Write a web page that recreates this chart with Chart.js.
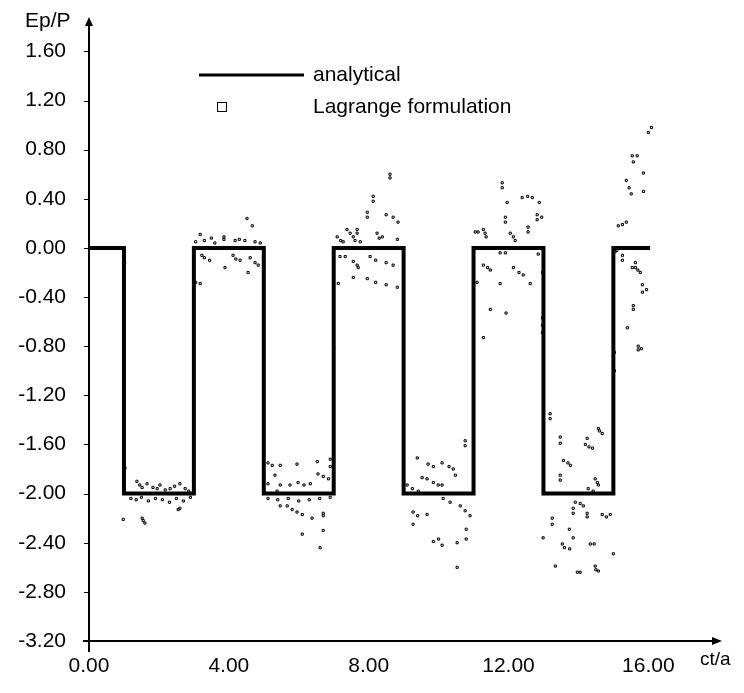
<!DOCTYPE html>
<html>
<head>
<meta charset="utf-8">
<script src="https://cdn.jsdelivr.net/npm/chart.js@4/dist/chart.umd.min.js"></script>
<style>
  body { margin: 0; background: #fff; }
  #chart { display: block; }
</style>
</head>
<body>
<canvas id="chart" width="744" height="693"></canvas>
<script>
// analytical square wave
const analyticalX = [0, 1, 1, 3, 3, 5, 5, 7, 7, 9, 9, 11, 11, 13, 13, 15, 15, 16.05];
const analyticalY = [0, 0, -2, -2, 0, 0, -2, -2, 0, 0, -2, -2, 0, 0, -2, -2, 0, 0];

// Lagrange formulation points
const lagrangeX = [
  0.1, 0.3, 0.5, 0.7, 0.9, 1.02, 1.03, 0.98,
  1.37, 1.45, 1.52, 1.66, 1.83, 1.95, 2.03, 2.18, 2.32, 2.45, 2.6, 2.75, 2.85,
  1.2, 1.35, 1.5, 1.7, 1.9, 2.1, 2.3, 2.5, 2.7, 2.9, 2.55, 2.6, 1.52, 1.6, 1.55,
  3.05, 3.18, 3.3, 3.5, 3.86, 3.86, 4.18, 4.3, 4.46, 4.52, 4.67, 4.75, 4.9, 3.6,
  3.23, 3.3, 3.45, 4.12, 4.2, 4.32, 4.61, 4.75, 4.84, 3.89, 4.55, 3.18, 3.05,
  5.0,
  5.12, 5.24, 5.47, 5.95, 6.53, 6.9, 6.9, 5.32, 6.55, 6.7, 6.85, 5.12, 5.47, 5.75, 5.98, 6.15, 6.33, 5.38,
  5.12, 5.4, 5.7, 6.0, 6.3, 6.6, 6.9, 5.47, 5.67, 5.81, 5.95, 6.1, 6.38, 6.7, 6.7, 6.1, 6.7, 6.61,
  7.0,
  8.61, 8.61, 8.13, 8.13, 7.96, 7.96, 8.5, 8.7, 8.84, 7.38, 7.67, 7.67, 7.1, 7.2, 7.27, 7.47, 7.56, 7.61, 7.76, 8.24, 8.39, 8.3, 8.82,
  7.18, 7.33, 7.56, 7.67, 7.7, 8.04, 8.2, 8.5, 8.7, 7.56, 7.96, 8.2, 8.5, 8.82, 7.13,
  10.76, 10.76, 9.39, 9.7, 9.85, 10.1, 10.3, 10.42, 10.48, 9.53, 9.67, 9.85, 9.99, 10.1, 9.1, 9.25, 9.42,
  10.13, 10.33, 9.27, 9.4, 9.67, 9.27, 10.62, 10.76, 10.9, 10.79, 10.79, 9.85, 10.0, 10.1, 10.53, 10.53,
  11.82, 11.82, 12.39, 12.55, 12.68, 12.88, 11.96, 11.91, 11.91, 12.82, 12.95, 12.82, 12.56, 12.56, 11.05, 11.13, 11.28, 11.33, 11.36, 12.05, 12.14, 12.19,
  11.76, 11.91, 11.28, 11.4, 11.48, 12.14, 12.3, 12.42, 11.76, 12.62, 11.1, 11.48, 11.93, 11.28, 12.85,
  12.97, 12.97, 12.97, 12.97,
  13.19, 13.19, 13.0, 13.48, 13.48, 14.25, 14.2, 14.3, 14.4, 14.57, 14.68, 14.6, 13.57, 13.7, 13.77, 13.48, 13.48, 14.48, 14.54, 14.57, 14.28, 14.42,
  13.91, 14.05, 14.14, 13.85, 13.85, 14.25, 14.25, 13.25, 13.25, 14.68, 14.8, 14.91, 13.74, 12.99, 13.85, 13.54, 13.6, 13.75, 14.34, 14.45, 15.0, 13.34, 13.97, 14.05, 14.48, 14.57, 14.5,
  15.03, 15.03, 15.0,
  16.09, 16.0, 15.54, 15.68, 15.57, 15.86, 15.37, 15.45, 15.51, 15.86, 15.14, 15.26, 15.37,
  15.26, 15.26, 15.63, 15.63, 15.54, 15.7, 15.77, 15.83, 15.95, 15.83, 15.57, 15.57, 15.4, 15.71, 15.8, 15.71, 15.05, 15.1
];
const lagrangeY = [
  0, 0, 0, 0, 0, -0.12, -1.79, -2.21,
  -1.90, -1.93, -1.95, -1.92, -1.95, -1.96, -1.93, -1.97, -1.96, -1.94, -1.92, -1.96, -1.98,
  -2.04, -2.05, -2.03, -2.06, -2.04, -2.05, -2.07, -2.04, -2.06, -2.03, -2.13, -2.12, -2.20, -2.24, -2.22,
  0.05, 0.11, 0.06, 0.08, 0.07, 0.09, 0.06, 0.07, 0.06, 0.24, 0.18, 0.05, 0.04, 0.04,
  -0.06, -0.08, -0.10, -0.06, -0.09, -0.10, -0.08, -0.12, -0.14, -0.16, -0.20, -0.29, -0.28,
  -0.82,
  -1.75, -1.77, -1.77, -1.76, -1.74, -1.72, -1.78, -1.85, -1.84, -1.86, -1.88, -1.92, -1.93, -1.93, -1.91, -1.93, -1.92, -1.98,
  -2.04, -2.05, -2.04, -2.06, -2.05, -2.04, -2.03, -2.10, -2.10, -2.13, -2.15, -2.17, -2.20, -2.16, -2.18, -2.33, -2.30, -2.44,
  -0.82,
  0.60, 0.57, 0.42, 0.38, 0.29, 0.25, 0.27, 0.25, 0.21, 0.15, 0.15, 0.12, 0.09, 0.06, 0.05, 0.12, 0.09, 0.06, 0.05, 0.12, 0.09, 0.08, 0.07,
  -0.07, -0.07, -0.11, -0.14, -0.16, -0.07, -0.10, -0.12, -0.14, -0.24, -0.25, -0.28, -0.30, -0.32, -0.29,
  -1.57, -1.61, -1.71, -1.76, -1.78, -1.75, -1.78, -1.80, -1.85, -1.87, -1.88, -1.91, -1.93, -1.93, -1.93, -1.96, -1.98,
  -2.04, -2.07, -2.15, -2.18, -2.17, -2.25, -2.10, -2.14, -2.18, -2.29, -2.37, -2.39, -2.37, -2.42, -2.40, -2.60,
  0.53, 0.49, 0.41, 0.42, 0.41, 0.37, 0.37, 0.25, 0.21, 0.27, 0.25, 0.23, 0.17, 0.13, 0.13, 0.13, 0.15, 0.12, 0.09, 0.12, 0.09, 0.06,
  -0.04, -0.04, -0.14, -0.16, -0.18, -0.16, -0.20, -0.22, -0.29, -0.29, -0.28, -0.50, -0.53, -0.73, -0.05,
  -0.20, -0.57, -0.63, -0.69,
  -1.35, -1.39, -1.50, -1.54, -1.59, -1.55, -1.60, -1.62, -1.63, -1.47, -1.51, -1.49, -1.73, -1.75, -1.77, -1.85, -1.89, -1.88, -1.91, -1.93, -1.96, -1.98,
  -2.07, -2.08, -2.10, -2.12, -2.16, -2.16, -2.19, -2.20, -2.25, -2.17, -2.19, -2.17, -2.29, -2.36, -2.36, -2.41, -2.44, -2.45, -2.41, -2.41, -2.49, -2.59, -2.64, -2.64, -2.59, -2.63, -2.62,
  -0.85, -1.00, -0.69,
  0.98, 0.94, 0.75, 0.75, 0.70, 0.61, 0.55, 0.49, 0.44, 0.46, 0.18, 0.19, 0.21,
  -0.06, -0.10, -0.12, -0.16, -0.16, -0.18, -0.20, -0.30, -0.34, -0.36, -0.47, -0.50, -0.65, -0.80, -0.82, -0.83, -0.03, -0.02
];

const xTicks = [0, 4, 8, 12, 16];
const yTicks = [-3.2, -2.8, -2.4, -2.0, -1.6, -1.2, -0.8, -0.4, 0, 0.4, 0.8, 1.2, 1.6];
const legendLabels = ["analytical", "Lagrange formulation"];
const xTitle = "ct/a";
const yTitle = "Ep/P";

const FONT = "'Liberation Sans', Arial, sans-serif";

const toPoints = (xs, ys) => xs.map((x, i) => ({ x: x, y: ys[i] }));

// axes with arrows, titles and the legend box
const decorations = {
  id: "decorations",
  afterDraw(chart) {
    const ctx = chart.ctx;
    const area = chart.chartArea;
    const yScale = chart.scales.y;
    const left = area.left, bottom = area.bottom;

    ctx.save();
    ctx.strokeStyle = "#000";
    ctx.fillStyle = "#000";
    ctx.lineWidth = 2;

    // y axis
    ctx.beginPath();
    ctx.moveTo(left, bottom + 11);
    ctx.lineTo(left, area.top + 6);
    ctx.stroke();
    ctx.beginPath();
    ctx.moveTo(left, area.top);
    ctx.lineTo(left - 4, area.top + 9);
    ctx.lineTo(left + 4, area.top + 9);
    ctx.closePath();
    ctx.fill();

    // y tick marks
    ctx.lineWidth = 1;
    yTicks.forEach(v => {
      const py = Math.round(yScale.getPixelForValue(v)) + 0.5;
      ctx.beginPath();
      ctx.moveTo(left - 5, py);
      ctx.lineTo(left, py);
      ctx.stroke();
    });

    // x axis
    ctx.lineWidth = 2;
    ctx.beginPath();
    ctx.moveTo(left - 6, bottom);
    ctx.lineTo(area.right - 6, bottom);
    ctx.stroke();
    ctx.beginPath();
    ctx.moveTo(area.right + 2, bottom);
    ctx.lineTo(area.right - 8, bottom - 4);
    ctx.lineTo(area.right - 8, bottom + 4);
    ctx.closePath();
    ctx.fill();

    // axis titles
    ctx.font = "21px " + FONT;
    ctx.textBaseline = "middle";
    ctx.textAlign = "left";
    ctx.fillText(yTitle, 25, 21);
    ctx.font = "19px " + FONT;
    ctx.fillText(xTitle, 700, 660);

    // legend
    ctx.lineWidth = 3;
    ctx.beginPath();
    ctx.moveTo(199, 75);
    ctx.lineTo(304, 75);
    ctx.stroke();
    ctx.lineWidth = 1;
    ctx.strokeRect(217.5, 102.5, 9, 9);
    ctx.font = "21px " + FONT;
    ctx.fillText(legendLabels[0], 313, 75);
    ctx.fillText(legendLabels[1], 313, 107);
    ctx.restore();
  }
};

new Chart(document.getElementById("chart"), {
  type: "scatter",
  data: {
    datasets: [
      {
        label: legendLabels[0],
        data: toPoints(analyticalX, analyticalY),
        showLine: true,
        borderColor: "#000",
        borderWidth: 4,
        pointRadius: 0,
        tension: 0
      },
      {
        label: legendLabels[1],
        data: toPoints(lagrangeX, lagrangeY),
        showLine: false,
        pointStyle: "rect",
        pointRadius: 1.5,
        borderWidth: 1,
        borderColor: "#000",
        backgroundColor: "rgba(255,255,255,0)"
      }
    ]
  },
  options: {
    responsive: false,
    animation: false,
    devicePixelRatio: 1,
    layout: { padding: { left: 0, right: 24, top: 17, bottom: 0 } },
    plugins: {
      legend: { display: false },
      tooltip: { enabled: false }
    },
    scales: {
      x: {
        type: "linear",
        min: 0,
        max: 18.05,
        grid: { display: false, drawTicks: false },
        border: { display: false },
        afterBuildTicks: scale => { scale.ticks = xTicks.map(v => ({ value: v })); },
        afterFit: scale => {
          scale.height = 52;
          scale.paddingLeft = 0;
          scale.paddingRight = 0;
        },
        ticks: {
          padding: 13,
          color: "#000",
          font: { family: FONT, size: 21 },
          maxRotation: 0,
          callback: v => v.toFixed(2)
        }
      },
      y: {
        min: -3.2,
        max: 1.88,
        grid: { display: false, drawTicks: false },
        border: { display: false },
        afterBuildTicks: scale => { scale.ticks = yTicks.map(v => ({ value: v })); },
        afterFit: scale => {
          scale.width = 89;
          scale.paddingTop = 0;
          scale.paddingBottom = 0;
        },
        ticks: {
          padding: 23,
          color: "#000",
          font: { family: FONT, size: 21 },
          callback: v => v.toFixed(2)
        }
      }
    }
  },
  plugins: [decorations]
});
</script>
</body>
</html>
